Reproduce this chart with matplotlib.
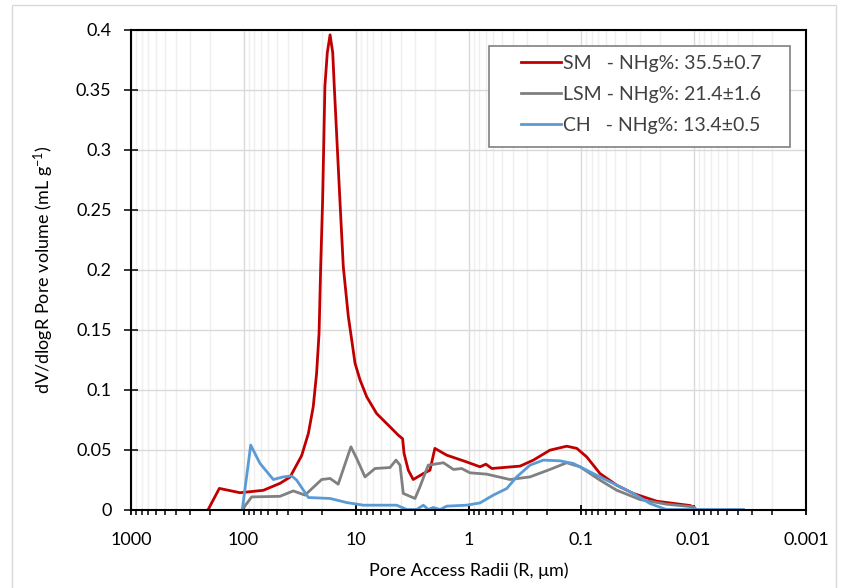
import numpy as np
import matplotlib
matplotlib.use("Agg")
import matplotlib.pyplot as plt
from matplotlib.ticker import FixedLocator, LogLocator, NullFormatter, FuncFormatter
from matplotlib.patches import Rectangle

plt.rcParams['font.family'] = ['Lato', 'DejaVu Sans']
plt.rcParams['mathtext.default'] = 'regular'

# pore access radius (um) and dV/dlogR (mL/g)
sm_r = [206, 164, 107.4, 66.7, 47.4, 38.6, 30.4, 26.5, 24.0, 22.4, 21.3, 20.6, 19.8,
        18.9, 18.0, 17.0, 16.1, 15.6, 13.9, 12.97, 11.7, 10.9, 10.2, 9.2, 8.03, 6.55,
        4.99, 4.21, 3.85, 3.74, 3.43, 3.10, 2.52, 2.20, 1.99, 1.56, 1.04, 0.79, 0.70,
        0.62, 0.348, 0.265, 0.189, 0.134, 0.109, 0.089, 0.0678, 0.0482, 0.0343,
        0.0212, 0.0107, 0.0100]
sm_v = [0, 0.0176, 0.014, 0.016, 0.0218, 0.027, 0.045, 0.0635, 0.0857, 0.1136, 0.147,
        0.2025, 0.258, 0.353, 0.381, 0.396, 0.381, 0.353, 0.258, 0.2025, 0.161, 0.141,
        0.122, 0.108, 0.094, 0.080, 0.069, 0.062, 0.059, 0.0468, 0.0328, 0.025, 0.030,
        0.0328, 0.051, 0.0453, 0.0397, 0.0356, 0.0378, 0.0342, 0.0362, 0.0412, 0.0495,
        0.0528, 0.051, 0.0439, 0.030, 0.0203, 0.0134, 0.0069, 0.0033, 0.002]

lsm_r = [102.5, 84.6, 47.4, 36.1, 28.4, 20.2, 17.0, 14.4, 11.1, 9.86, 8.32, 6.78, 4.99,
         4.41, 4.06, 3.80, 2.99, 2.70, 2.28, 1.67, 1.36, 1.15, 0.97, 0.69, 0.428, 0.284,
         0.189, 0.134, 0.102, 0.0678, 0.0482, 0.0299, 0.0173, 0.0100, 0.0094]
lsm_v = [0, 0.0105, 0.011, 0.0155, 0.012, 0.025, 0.0259, 0.0211, 0.0523, 0.0426, 0.0272,
         0.0342, 0.035, 0.0412, 0.037, 0.0134, 0.0092, 0.019, 0.037, 0.039, 0.0334,
         0.0342, 0.0306, 0.0295, 0.025, 0.0272, 0.0334, 0.039, 0.0356, 0.0245, 0.0161,
         0.0083, 0.0044, 0.0022, 0]

ch_r = [102.5, 86.3, 71.3, 54.3, 44.3, 37.3, 33.7, 26.5, 17.0, 12.1, 8.61, 4.35, 3.54,
        2.89, 2.52, 2.28, 2.06, 1.79, 1.56, 1.04, 0.79, 0.602, 0.457, 0.373, 0.284,
        0.216, 0.154, 0.117, 0.089, 0.0678, 0.0482, 0.0343, 0.0244, 0.0185, 0.0173,
        0.0036]
ch_v = [0, 0.0537, 0.0384, 0.025, 0.0272, 0.028, 0.0245, 0.010, 0.0092, 0.0058, 0.0036,
        0.0036, 0, 0, 0.0036, 0, 0.0017, 0, 0.0028, 0.0036, 0.0055, 0.012, 0.0175,
        0.0272, 0.037, 0.0412, 0.0406, 0.0384, 0.0328, 0.0272, 0.0203, 0.0134, 0.005,
        0.0008, 0, 0]

labels = ["SM   - NHg%: 35.5\u00b10.7", "LSM - NHg%: 21.4\u00b11.6", "CH   - NHg%: 13.4\u00b10.5"]
colors = ["#c00000", "#808080", "#5b9bd5"]

x_ticks = [1000, 100, 10, 1, 0.1, 0.01, 0.001]
x_tick_labels = ["1000", "100", "10", "1", "0.1", "0.01", "0.001"]
y_ticks = [0, 0.05, 0.1, 0.15, 0.2, 0.25, 0.3, 0.35, 0.4]

W, H = 842, 588
fig = plt.figure(figsize=(W / 100, H / 100), dpi=100)
ax = fig.add_axes([131 / W, 1 - 509.5 / H, (806 - 131) / W, (509.5 - 30) / H])

# outer chart border
fig.patches.append(Rectangle((12 / W, -0.05), (836 - 12) / W, 1.05 - 5 / H,
                             transform=fig.transFigure, fill=False,
                             edgecolor="#d9d9d9", linewidth=1))

for r, v, c, lab in zip([sm_r, lsm_r, ch_r], [sm_v, lsm_v, ch_v], colors, labels):
    ax.plot(r, v, color=c, lw=2, label=lab, solid_joinstyle='round')

ax.set_xscale('log')
ax.set_xlim(1000, 0.001)
ax.set_ylim(0, 0.4)

ax.xaxis.set_major_locator(FixedLocator(x_ticks))
ax.set_xticks(x_ticks)
ax.set_xticklabels(x_tick_labels)
ax.xaxis.set_minor_locator(LogLocator(base=10, subs=np.arange(2, 10)))
ax.xaxis.set_minor_formatter(NullFormatter())
ax.set_yticks(y_ticks)
ax.yaxis.set_major_formatter(FuncFormatter(lambda v, p: "%g" % v))

ax.grid(which='major', axis='both', color='#d9d9d9', lw=1)
ax.grid(which='minor', axis='x', color='#efefef', lw=1)
ax.set_axisbelow(True)

for s in ax.spines.values():
    s.set_color('black')
    s.set_linewidth(1.5)

ax.tick_params(axis='x', which='major', direction='inout', length=6.5, width=1.3,
               labelsize=13, pad=13)
ax.tick_params(axis='x', which='minor', direction='out', length=3.6, width=1.1)
ax.tick_params(axis='y', which='major', direction='inout', length=10, width=1.1,
               labelsize=13, pad=9)

ax.set_xlabel("Pore Access Radii (R, \u03bcm)", fontsize=13, labelpad=10)
ax.set_ylabel("dV/dlogR Pore volume (mL g$^{-1}$)", fontsize=13, labelpad=14)

# legend box drawn by hand, Excel-style padding
ax.add_patch(Rectangle((489 / W, 1 - 147 / H), (790 - 489) / W, (147 - 46) / H,
                       transform=fig.transFigure, facecolor='white',
                       edgecolor='#808080', linewidth=1.2, zorder=4.5, clip_on=False))
leg = ax.legend(loc='upper left', bbox_to_anchor=(520.7 / W, 1 - 55 / H),
                bbox_transform=fig.transFigure, fontsize=14, frameon=False,
                borderpad=0, borderaxespad=0, handlelength=2.06, handletextpad=0.13,
                labelspacing=0.72)
leg.set_zorder(6)
for t in leg.get_texts():
    t.set_color('#404040')

fig.savefig("out.png", dpi=100)
